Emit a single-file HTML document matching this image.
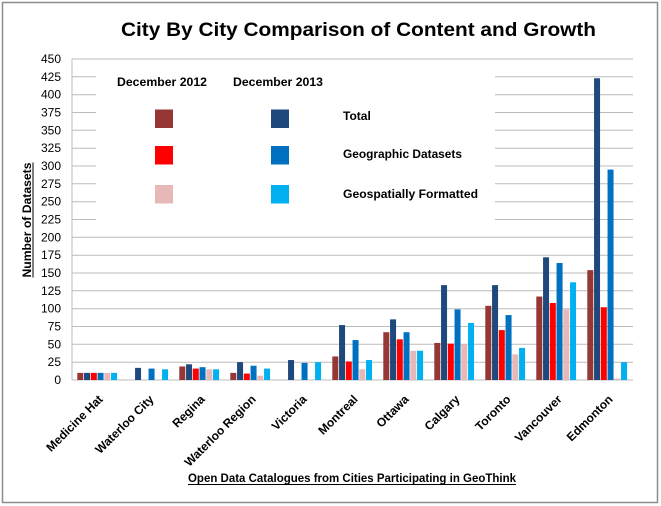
<!DOCTYPE html>
<html>
<head>
<meta charset="utf-8">
<style>
html,body{margin:0;padding:0;background:#fff;}
svg{display:block;}
text{font-family:"Liberation Sans",Arial,sans-serif;fill:#000;}
.b{font-weight:bold;}
</style>
</head>
<body>
<svg width="661" height="506" viewBox="0 0 661 506" xmlns="http://www.w3.org/2000/svg">
<rect x="0" y="0" width="661" height="506" fill="#fff"/>
<rect x="2.5" y="2.5" width="655" height="500" fill="none" stroke="#8c8c8c" stroke-width="1.5"/>

<!-- title -->
<text class="b" x="121" y="36" font-size="19" textLength="475" lengthAdjust="spacingAndGlyphs">City By City Comparison  of  Content  and  Growth</text>

<!-- gridlines -->
<g stroke="#bcbcbc" stroke-width="1">
<line x1="72" y1="59" x2="633" y2="59"/>
<line x1="72" y1="76.8" x2="633" y2="76.8"/>
<line x1="72" y1="94.7" x2="633" y2="94.7"/>
<line x1="72" y1="112.5" x2="633" y2="112.5"/>
<line x1="72" y1="130.3" x2="633" y2="130.3"/>
<line x1="72" y1="148.2" x2="633" y2="148.2"/>
<line x1="72" y1="166" x2="633" y2="166"/>
<line x1="72" y1="183.8" x2="633" y2="183.8"/>
<line x1="72" y1="201.7" x2="633" y2="201.7"/>
<line x1="72" y1="219.5" x2="633" y2="219.5"/>
<line x1="72" y1="237.3" x2="633" y2="237.3"/>
<line x1="72" y1="255.2" x2="633" y2="255.2"/>
<line x1="72" y1="273" x2="633" y2="273"/>
<line x1="72" y1="290.8" x2="633" y2="290.8"/>
<line x1="72" y1="308.7" x2="633" y2="308.7"/>
<line x1="72" y1="326.5" x2="633" y2="326.5"/>
<line x1="72" y1="344.3" x2="633" y2="344.3"/>
<line x1="72" y1="362.2" x2="633" y2="362.2"/>
<line x1="72" y1="380" x2="633" y2="380"/>
<line x1="72" y1="59" x2="72" y2="380"/>
</g>

<!-- legend box -->
<rect x="96" y="63" width="399" height="166" fill="#fff"/>
<text class="b" x="117" y="86" font-size="12" textLength="90" lengthAdjust="spacingAndGlyphs">December 2012</text>
<text class="b" x="233" y="86" font-size="12" textLength="90" lengthAdjust="spacingAndGlyphs">December 2013</text>
<rect x="155" y="109.5" width="18" height="18.5" fill="#953735"/>
<rect x="155" y="146" width="18" height="18.5" fill="#FF0000"/>
<rect x="155" y="185" width="18" height="18.5" fill="#E6B9B8"/>
<rect x="271" y="109.5" width="18" height="18.5" fill="#1F497D"/>
<rect x="271" y="146" width="18" height="18.5" fill="#0070C0"/>
<rect x="271" y="185" width="18" height="18.5" fill="#00B0F0"/>
<text class="b" x="343" y="120" font-size="12">Total</text>
<text class="b" x="343" y="158" font-size="12" textLength="119" lengthAdjust="spacingAndGlyphs">Geographic Datasets</text>
<text class="b" x="343" y="198" font-size="12" textLength="135" lengthAdjust="spacingAndGlyphs">Geospatially Formatted</text>

<!-- y labels -->
<g font-size="12" text-anchor="end">
<text x="61" y="63">450</text>
<text x="61" y="80.8">425</text>
<text x="61" y="98.7">400</text>
<text x="61" y="116.5">375</text>
<text x="61" y="134.3">350</text>
<text x="61" y="152.2">325</text>
<text x="61" y="170">300</text>
<text x="61" y="187.8">275</text>
<text x="61" y="205.7">250</text>
<text x="61" y="223.5">225</text>
<text x="61" y="241.3">200</text>
<text x="61" y="259.2">175</text>
<text x="61" y="277">150</text>
<text x="61" y="294.8">125</text>
<text x="61" y="312.7">100</text>
<text x="61" y="330.5">75</text>
<text x="61" y="348.3">50</text>
<text x="61" y="366.2">25</text>
<text x="61" y="384">0</text>
</g>

<!-- y title -->
<text class="b" transform="translate(31,220) rotate(-90)" font-size="12" text-anchor="middle" textLength="115" lengthAdjust="spacingAndGlyphs">Number of Datasets</text>
<line x1="33" y1="162.5" x2="33" y2="277.5" stroke="#000" stroke-width="1"/>

<!-- bars -->
<g id="bars">
<g transform="translate(77.3,380)">
<rect x="0" y="-7.13" width="6" height="7.13" fill="#953735"/>
<rect x="6.75" y="-7.13" width="6" height="7.13" fill="#1F497D"/>
<rect x="13.5" y="-7.13" width="6" height="7.13" fill="#FF0000"/>
<rect x="20.25" y="-7.13" width="6" height="7.13" fill="#0070C0"/>
<rect x="27" y="-7.13" width="6" height="7.13" fill="#E6B9B8"/>
<rect x="33.75" y="-7.13" width="6" height="7.13" fill="#00B0F0"/>
</g>
<g transform="translate(128.3,380)">
<rect x="6.75" y="-12.13" width="6" height="12.13" fill="#1F497D"/>
<rect x="20.25" y="-11.41" width="6" height="11.41" fill="#0070C0"/>
<rect x="33.75" y="-10.7" width="6" height="10.7" fill="#00B0F0"/>
</g>
<g transform="translate(179.3,380)">
<rect x="0" y="-13.55" width="6" height="13.55" fill="#953735"/>
<rect x="6.75" y="-15.69" width="6" height="15.69" fill="#1F497D"/>
<rect x="13.5" y="-11.41" width="6" height="11.41" fill="#FF0000"/>
<rect x="20.25" y="-12.84" width="6" height="12.84" fill="#0070C0"/>
<rect x="27" y="-10.7" width="6" height="10.7" fill="#E6B9B8"/>
<rect x="33.75" y="-10.7" width="6" height="10.7" fill="#00B0F0"/>
</g>
<g transform="translate(230.3,380)">
<rect x="0" y="-7.13" width="6" height="7.13" fill="#953735"/>
<rect x="6.75" y="-17.83" width="6" height="17.83" fill="#1F497D"/>
<rect x="13.5" y="-6.42" width="6" height="6.42" fill="#FF0000"/>
<rect x="20.25" y="-14.27" width="6" height="14.27" fill="#0070C0"/>
<rect x="27" y="-4.28" width="6" height="4.28" fill="#E6B9B8"/>
<rect x="33.75" y="-11.41" width="6" height="11.41" fill="#00B0F0"/>
</g>
<g transform="translate(281.3,380)">
<rect x="6.75" y="-19.97" width="6" height="19.97" fill="#1F497D"/>
<rect x="20.25" y="-17.12" width="6" height="17.12" fill="#0070C0"/>
<rect x="33.75" y="-17.83" width="6" height="17.83" fill="#00B0F0"/>
</g>
<g transform="translate(332.3,380)">
<rect x="0" y="-23.54" width="6" height="23.54" fill="#953735"/>
<rect x="6.75" y="-54.93" width="6" height="54.93" fill="#1F497D"/>
<rect x="13.5" y="-18.55" width="6" height="18.55" fill="#FF0000"/>
<rect x="20.25" y="-39.95" width="6" height="39.95" fill="#0070C0"/>
<rect x="27" y="-10.7" width="6" height="10.7" fill="#E6B9B8"/>
<rect x="33.75" y="-19.97" width="6" height="19.97" fill="#00B0F0"/>
</g>
<g transform="translate(383.3,380)">
<rect x="0" y="-47.79" width="6" height="47.79" fill="#953735"/>
<rect x="6.75" y="-60.63" width="6" height="60.63" fill="#1F497D"/>
<rect x="13.5" y="-40.66" width="6" height="40.66" fill="#FF0000"/>
<rect x="20.25" y="-47.79" width="6" height="47.79" fill="#0070C0"/>
<rect x="27" y="-29.25" width="6" height="29.25" fill="#E6B9B8"/>
<rect x="33.75" y="-29.25" width="6" height="29.25" fill="#00B0F0"/>
</g>
<g transform="translate(434.3,380)">
<rect x="0" y="-37.09" width="6" height="37.09" fill="#953735"/>
<rect x="6.75" y="-94.87" width="6" height="94.87" fill="#1F497D"/>
<rect x="13.5" y="-36.38" width="6" height="36.38" fill="#FF0000"/>
<rect x="20.25" y="-70.62" width="6" height="70.62" fill="#0070C0"/>
<rect x="27" y="-35.67" width="6" height="35.67" fill="#E6B9B8"/>
<rect x="33.75" y="-57.07" width="6" height="57.07" fill="#00B0F0"/>
</g>
<g transform="translate(485.3,380)">
<rect x="0" y="-74.19" width="6" height="74.19" fill="#953735"/>
<rect x="6.75" y="-94.87" width="6" height="94.87" fill="#1F497D"/>
<rect x="13.5" y="-49.93" width="6" height="49.93" fill="#FF0000"/>
<rect x="20.25" y="-64.91" width="6" height="64.91" fill="#0070C0"/>
<rect x="27" y="-25.68" width="6" height="25.68" fill="#E6B9B8"/>
<rect x="33.75" y="-32.1" width="6" height="32.1" fill="#00B0F0"/>
</g>
<g transform="translate(536.3,380)">
<rect x="0" y="-83.46" width="6" height="83.46" fill="#953735"/>
<rect x="6.75" y="-122.69" width="6" height="122.69" fill="#1F497D"/>
<rect x="13.5" y="-77.04" width="6" height="77.04" fill="#FF0000"/>
<rect x="20.25" y="-116.99" width="6" height="116.99" fill="#0070C0"/>
<rect x="27" y="-70.62" width="6" height="70.62" fill="#E6B9B8"/>
<rect x="33.75" y="-97.73" width="6" height="97.73" fill="#00B0F0"/>
</g>
<g transform="translate(587.3,380)">
<rect x="0" y="-109.85" width="6" height="109.85" fill="#953735"/>
<rect x="6.75" y="-301.74" width="6" height="301.74" fill="#1F497D"/>
<rect x="13.5" y="-72.76" width="6" height="72.76" fill="#FF0000"/>
<rect x="20.25" y="-210.43" width="6" height="210.43" fill="#0070C0"/>
<rect x="27" y="-1.43" width="6" height="1.43" fill="#E6B9B8"/>
<rect x="33.75" y="-17.83" width="6" height="17.83" fill="#00B0F0"/>
</g>
</g>

<!-- x labels -->
<g class="b" font-size="12" font-weight="bold" text-anchor="end">
<text transform="translate(103.5,400) rotate(-45)">Medicine Hat</text>
<text transform="translate(154.5,400) rotate(-45)">Waterloo City</text>
<text transform="translate(205.5,400) rotate(-45)">Regina</text>
<text transform="translate(256.5,400) rotate(-45)">Waterloo Region</text>
<text transform="translate(307.5,400) rotate(-45)">Victoria</text>
<text transform="translate(358.5,400) rotate(-45)">Montreal</text>
<text transform="translate(409.5,400) rotate(-45)">Ottawa</text>
<text transform="translate(460.5,400) rotate(-45)">Calgary</text>
<text transform="translate(511.5,400) rotate(-45)">Toronto</text>
<text transform="translate(562.5,400) rotate(-45)">Vancouver</text>
<text transform="translate(613.5,400) rotate(-45)">Edmonton</text>
</g>

<!-- x title -->
<text class="b" x="188" y="482" font-size="12" textLength="328" lengthAdjust="spacingAndGlyphs">Open Data Catalogues from Cities Participating in GeoThink</text>
<line x1="188" y1="484.5" x2="516" y2="484.5" stroke="#000" stroke-width="1"/>
</svg>
</body>
</html>
